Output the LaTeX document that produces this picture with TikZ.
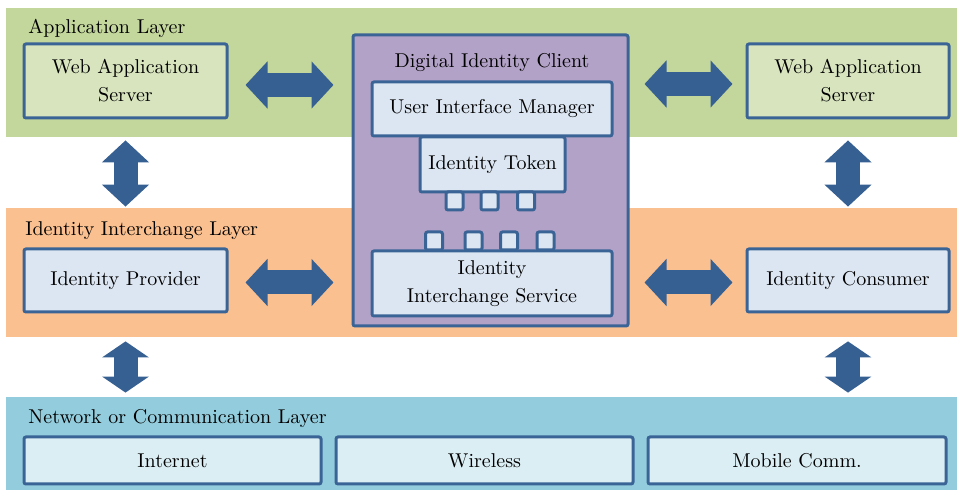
\documentclass[tikz,border=0pt]{standalone}
\usepackage{tikz}
\usetikzlibrary{calc}
\usetikzlibrary{positioning}
\usetikzlibrary{arrows.meta}
\definecolor{appgreen}{HTML}{C3D69B}
\definecolor{appbox}{HTML}{D7E4BD}
\definecolor{idorange}{HTML}{FAC090}
\definecolor{idbox}{HTML}{DCE6F2}
\definecolor{clientpurple}{HTML}{B3A2C7}
\definecolor{netblue}{HTML}{93CDDD}
\definecolor{netbox}{HTML}{DBEEF4}
\definecolor{boxline}{HTML}{3B6496}
\definecolor{arrowblue}{HTML}{376092}
\tikzset{layer/.style={shape=rectangle, draw=none, inner sep=0pt, minimum width=475.5pt},
  compbox/.style={shape=rectangle, draw=boxline, line width=1.5pt, rounded corners=1pt, align=center, inner sep=0pt},
  port/.style={compbox, fill=idbox, minimum width=8.5pt, minimum height=9pt},
  layertitle/.style={anchor=west, inner sep=0pt},
  blockarr/.style={every edge/.append style={draw=arrowblue, line width=12pt, {Triangle[length=#1,width=23pt]}-{Triangle[length=#1,width=23pt]}}},
  blockarr/.default=11pt}

\begin{document}
\begin{tikzpicture}[x=0.5pt, y=-0.5pt, every node/.style={font=\fontsize{10}{14}\selectfont}]
    \useasboundingbox (0,0) rectangle (957,490);
    % layers
    \node[layer, fill=appgreen, minimum height=64.5pt] (appL) at (481.5,72.5) {};
    \node[layer, fill=idorange, minimum height=64.5pt] (idL) at (481.5,272.5) {};
    \node[layer, fill=netblue, minimum height=46.5pt] (netL) at (481.5,443.5) {};
    \node[layertitle] (appT) at (28,28) {Application Layer};
    \node[layertitle] (idT) at (25,231) {Identity Interchange Layer};
    \node[layertitle] (netT) at (28,419) {Network or Communication Layer};

    % application / interchange boxes
    \node[compbox, fill=appbox, minimum width=101.5pt, minimum height=37pt] (wasL) at (125.5,81) {Web Application\\Server};
    \node[compbox, fill=appbox, minimum width=101pt, minimum height=37pt] (wasR) at (848,81) {Web Application\\Server};
    \node[compbox, fill=idbox, minimum width=101.5pt, minimum height=31.5pt] (idp) at (125.5,280.5) {Identity Provider};
    \node[compbox, fill=idbox, minimum width=101pt, minimum height=31.5pt] (idc) at (848,280.5) {Identity Consumer};

    % client
    \node[compbox, fill=clientpurple, minimum width=137.5pt, minimum height=145.5pt] (dic) at (490.5,180.5) {};
    \node (dicT) at (492,63) {Digital Identity Client};
    \node[compbox, fill=idbox, minimum width=120pt, minimum height=27pt] (uim) at (492,109) {User Interface Manager};
    \node[compbox, fill=idbox, minimum width=72.5pt, minimum height=27.5pt] (tok) at (492.5,164.5) {Identity Token};
    \node[compbox, fill=idbox, minimum width=120pt, minimum height=32.5pt] (iis) at (492,283.5) {Identity\\Interchange Service};
    \foreach \x/\n in {454.5/1, 489.5/2, 526/3}
      \node[port] (tp\n) at (\x,201) {};
    \foreach \x/\n in {434/1, 473.5/2, 509/3, 545.5/4}
      \node[port] (sp\n) at (\x,241) {};

    % network
    \node[compbox, fill=netbox, minimum width=148.5pt, minimum height=23.5pt] (inet) at (172.5,460.5) {Internet};
    \node[compbox, fill=netbox, minimum width=148.5pt, minimum height=23.5pt] (wire) at (484.5,460.5) {Wireless};
    \node[compbox, fill=netbox, minimum width=149pt, minimum height=23.5pt] (mob) at (797,460.5) {Mobile Comm.};

    % arrows
    \draw[blockarr]
    ([yshift=-2pt]wasL.east) edge[shorten <=8.5pt, shorten >=9pt] ([yshift=-2pt]wasL.east -| dic.west)
    ([yshift=-1.5pt]wasR.west -| dic.east) edge[shorten <=7.5pt, shorten >=6.5pt] ([yshift=-1.5pt]wasR.west)
    ([yshift=-1pt]idp.east) edge[shorten <=8.5pt, shorten >=9pt] ([yshift=-1pt]idp.east -| dic.west)
    ([yshift=-1pt]idc.west -| dic.east) edge[shorten <=7.5pt, shorten >=6.5pt] ([yshift=-1pt]idc.west)
    (appL.south -| wasL.south) edge[shorten <=1.5pt, shorten >=0.5pt] (idL.north -| wasL.south)
    (appL.south -| wasR.south) edge[shorten <=1.5pt, shorten >=0.5pt] (idL.north -| wasR.south);

    \draw[blockarr=8pt]
    (idL.south -| idp.south) edge[shorten <=2pt, shorten >=2pt] (netL.north -| idp.south)
    (idL.south -| idc.south) edge[shorten <=2pt, shorten >=2pt] (netL.north -| idc.south);
  \end{tikzpicture}
\end{document}
